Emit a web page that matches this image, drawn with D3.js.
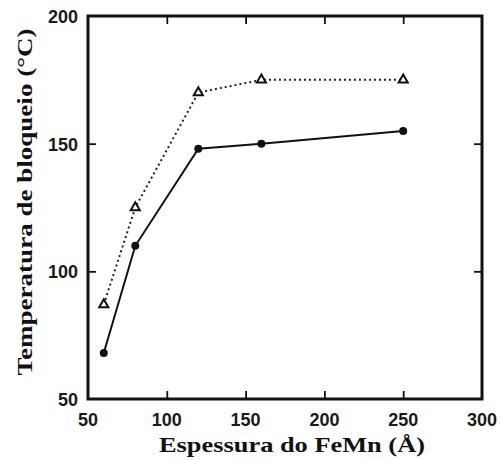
<!DOCTYPE html>
<html>
<head>
<meta charset="utf-8">
<script src="https://cdn.jsdelivr.net/npm/d3@7"></script>
<style>
body { margin: 0; background: #fff; }
</style>
</head>
<body>
<svg id="chart" width="501" height="460"></svg>
<script>
"use strict"

// data
var thickness = [60, 80, 120, 160, 250];
var tempCircle = [68, 110, 148, 150, 155];
var tempTriangle = [87, 125, 170, 175, 175];
var xTicks = [50, 100, 150, 200, 250, 300];
var yTicks = [50, 100, 150, 200];

var plotLeft = 88, plotTop = 16, plotRight = 482, plotBottom = 399;

var svg = d3.select("#chart");
var x = d3.scaleLinear().domain([50, 300]).range([plotLeft, plotRight]);
var y = d3.scaleLinear().domain([50, 200]).range([plotBottom, plotTop]);

var tickFont = "'Liberation Sans Narrow', 'Liberation Sans', sans-serif";
var labelFont = "'Liberation Serif', 'DejaVu Serif', serif";

// inward ticks on all four sides
svg.append("g").attr("transform", "translate(0," + plotBottom + ")")
	.call(d3.axisTop(x).tickValues([100, 150, 200, 250]).tickSize(8).tickFormat(""));
svg.append("g").attr("transform", "translate(0," + plotTop + ")")
	.call(d3.axisBottom(x).tickValues([100, 150, 200, 250]).tickSize(8).tickFormat(""));
svg.append("g").attr("transform", "translate(" + plotLeft + ",0)")
	.call(d3.axisRight(y).tickValues([100, 150]).tickSize(8).tickFormat(""));
svg.append("g").attr("transform", "translate(" + plotRight + ",0)")
	.call(d3.axisLeft(y).tickValues([100, 150]).tickSize(8).tickFormat(""));
svg.selectAll(".domain").remove();
svg.selectAll(".tick line").attr("stroke", "#111").attr("stroke-width", 1.8);

// frame
svg.append("rect")
	.attr("x", plotLeft).attr("y", plotTop)
	.attr("width", plotRight - plotLeft).attr("height", plotBottom - plotTop)
	.attr("fill", "none").attr("stroke", "#111").attr("stroke-width", 3);

// tick labels
svg.selectAll(".xlab").data(xTicks).enter().append("text")
	.attr("x", function(d) { return x(d); })
	.attr("y", 426)
	.attr("text-anchor", "middle")
	.style("font-family", tickFont).style("font-size", "18px").style("font-weight", "bold")
	.attr("fill", "#1a1a1a")
	.text(function(d) { return d; });
svg.selectAll(".ylab").data(yTicks).enter().append("text")
	.attr("x", 78)
	.attr("y", function(d) { return y(d) + 7; })
	.attr("text-anchor", "end")
	.style("font-family", tickFont).style("font-size", "18px").style("font-weight", "bold")
	.attr("fill", "#1a1a1a")
	.text(function(d) { return d; });

// axis titles
svg.append("text")
	.attr("x", 292).attr("y", 452)
	.attr("text-anchor", "middle")
	.attr("textLength", 266).attr("lengthAdjust", "spacingAndGlyphs")
	.style("font-family", labelFont).style("font-size", "22px").style("font-weight", "bold")
	.attr("fill", "#111")
	.text("Espessura do FeMn (Å)");
svg.append("text")
	.attr("transform", "translate(32,202) rotate(-90)")
	.attr("text-anchor", "middle")
	.attr("textLength", 347).attr("lengthAdjust", "spacingAndGlyphs")
	.style("font-family", labelFont).style("font-size", "22px").style("font-weight", "bold")
	.attr("fill", "#111")
	.text("Temperatura de bloqueio (°C)");

// series
var line = d3.line()
	.x(function(d) { return x(d[0]); })
	.y(function(d) { return y(d[1]); });
var circlePts = d3.zip(thickness, tempCircle);
var triPts = d3.zip(thickness, tempTriangle);

svg.append("path").datum(triPts)
	.attr("d", line).attr("fill", "none")
	.attr("stroke", "#222").attr("stroke-width", 2)
	.attr("stroke-dasharray", "2,3");
svg.append("path").datum(circlePts)
	.attr("d", line).attr("fill", "none")
	.attr("stroke", "#111").attr("stroke-width", 2);

svg.selectAll(".dot").data(circlePts).enter().append("circle")
	.attr("cx", function(d) { return x(d[0]); })
	.attr("cy", function(d) { return y(d[1]); })
	.attr("r", 4).attr("fill", "#111");

var tri = d3.symbol().type(d3.symbolTriangle).size(36);
svg.selectAll(".tri").data(triPts).enter().append("path")
	.attr("d", tri)
	.attr("transform", function(d) { return "translate(" + x(d[0]) + "," + y(d[1]) + ")"; })
	.attr("fill", "#fff").attr("stroke", "#111").attr("stroke-width", 2);
</script>
</body>
</html>
